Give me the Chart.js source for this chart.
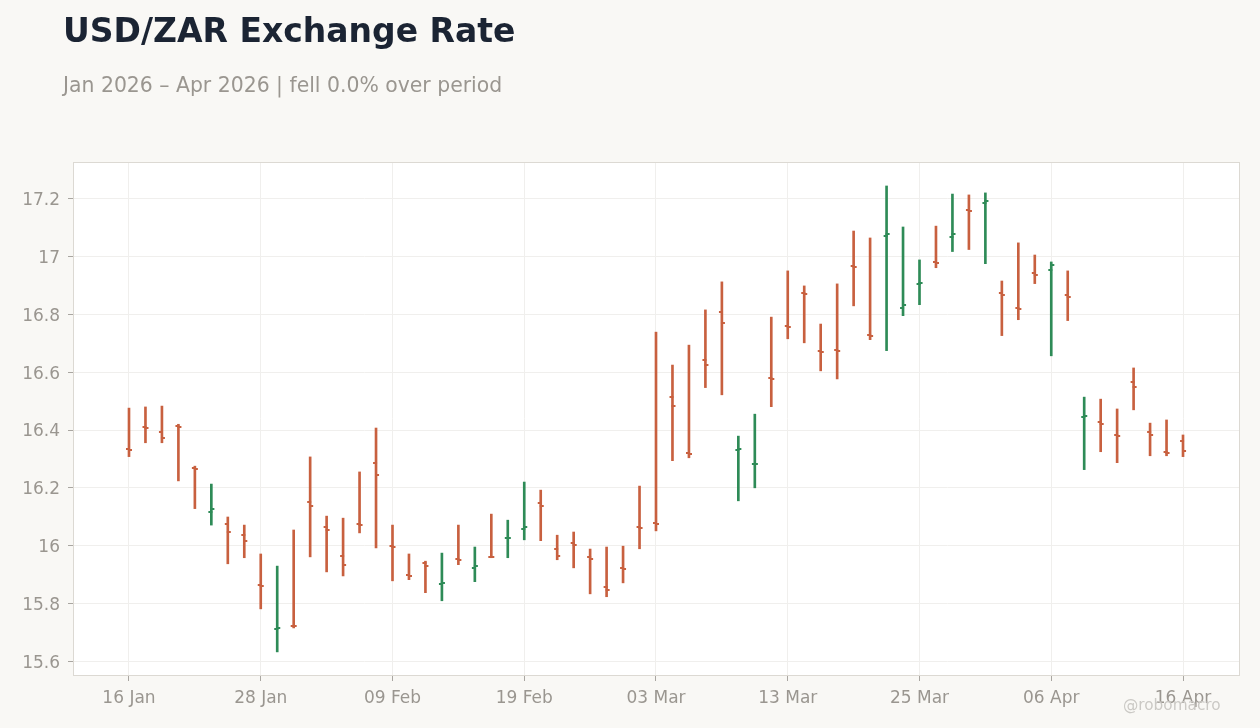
<!DOCTYPE html>
<html>
<head>
<meta charset="utf-8">
<script src="https://cdn.jsdelivr.net/npm/chart.js@4/dist/chart.umd.min.js"></script>
<style>
  html, body { margin: 0; padding: 0; background: #f9f8f5; }
  body { width: 1260px; height: 728px; position: relative; overflow: hidden; font-family: 'DejaVu Sans', sans-serif; }
  #title { position: absolute; left: 63px; top: 11px; font-size: 33px; font-weight: bold; color: #1b2433; white-space: nowrap; }
  #subtitle { position: absolute; left: 63px; top: 73px; font-size: 20.4px; color: #9a9690; white-space: nowrap; }
  #credit { position: absolute; left: 1123px; top: 696px; font-size: 15.3px; color: #cbc9c5; white-space: nowrap; }
  #wrap { position: absolute; left: 0; top: 0; width: 1260px; height: 728px; }
</style>
</head>
<body>
<div id="wrap"><canvas id="myChart" width="1260" height="728"></canvas></div>
<div id="title">USD/ZAR Exchange Rate</div>
<div id="subtitle">Jan 2026 – Apr 2026 | fell 0.0% over period</div>
<div id="credit">@robomacro</div>
<script>
// trading days, 16 Jan - 16 Apr 2026
const days = [
    '16 Jan', '19 Jan', '20 Jan', '21 Jan', '22 Jan', '23 Jan', '26 Jan', '27 Jan', '28 Jan', '29 Jan', '30 Jan',
    '02 Feb', '03 Feb', '04 Feb', '05 Feb', '06 Feb', '09 Feb', '10 Feb', '11 Feb', '12 Feb', '13 Feb',
    '16 Feb', '17 Feb', '18 Feb', '19 Feb', '20 Feb', '23 Feb', '24 Feb', '25 Feb', '26 Feb', '27 Feb',
    '02 Mar', '03 Mar', '04 Mar', '05 Mar', '06 Mar', '09 Mar', '10 Mar', '11 Mar', '12 Mar', '13 Mar',
    '16 Mar', '17 Mar', '18 Mar', '19 Mar', '20 Mar', '23 Mar', '24 Mar', '25 Mar', '26 Mar', '27 Mar',
    '30 Mar', '31 Mar', '01 Apr', '02 Apr', '03 Apr', '06 Apr', '07 Apr', '08 Apr', '09 Apr', '10 Apr',
    '13 Apr', '14 Apr', '15 Apr', '16 Apr'
];

const open = [
    16.335, 16.412, 16.394, 16.414, 16.270, 16.117, 16.076, 16.037, 15.864, 15.711, 15.723,
    16.152, 16.063, 15.965, 16.076, 16.287, 15.999, 15.899, 15.940, 15.868, 15.954,
    15.923, 15.962, 16.025, 16.058, 16.148, 15.989, 16.010, 15.961, 15.857, 15.923,
    16.063, 16.079, 16.515, 16.321, 16.643, 16.810, 16.331, 16.281, 16.581, 16.761,
    16.873, 16.675, 16.676, 16.968, 16.728, 17.073, 16.824, 16.907, 16.983, 17.069,
    17.163, 17.187, 16.876, 16.821, 16.945, 16.955, 16.869, 16.446, 16.429, 16.384,
    16.567, 16.394, 16.325, 16.363
];
const high = [
    16.476, 16.480, 16.483, 16.420, 16.275, 16.213, 16.099, 16.071, 15.971, 15.929, 16.054,
    16.307, 16.102, 16.095, 16.255, 16.407, 16.071, 15.971, 15.946, 15.974, 16.071,
    15.995, 16.109, 16.088, 16.220, 16.192, 16.036, 16.047, 15.988, 15.995, 15.998,
    16.206, 16.739, 16.625, 16.694, 16.816, 16.913, 16.379, 16.455, 16.791, 16.951,
    16.899, 16.767, 16.906, 17.089, 17.065, 17.245, 17.103, 16.989, 17.106, 17.217,
    17.214, 17.221, 16.916, 17.048, 17.006, 16.982, 16.951, 16.514, 16.507, 16.473,
    16.615, 16.424, 16.435, 16.383
];
const low = [
    16.308, 16.356, 16.356, 16.224, 16.128, 16.071, 15.937, 15.958, 15.781, 15.632, 15.715,
    15.961, 15.909, 15.895, 16.044, 15.992, 15.878, 15.882, 15.837, 15.809, 15.934,
    15.875, 15.958, 15.958, 16.020, 16.017, 15.951, 15.923, 15.833, 15.823, 15.871,
    15.989, 16.051, 16.294, 16.304, 16.547, 16.522, 16.155, 16.200, 16.481, 16.716,
    16.702, 16.605, 16.577, 16.830, 16.713, 16.675, 16.796, 16.834, 16.962, 17.018,
    17.025, 16.976, 16.727, 16.782, 16.907, 16.657, 16.779, 16.263, 16.325, 16.287,
    16.470, 16.311, 16.311, 16.308
];
const close = [
    16.332, 16.408, 16.373, 16.410, 16.266, 16.128, 16.048, 16.017, 15.861, 15.713, 15.721,
    16.138, 16.055, 15.934, 16.072, 16.245, 15.996, 15.895, 15.930, 15.871, 15.951,
    15.930, 15.959, 16.028, 16.065, 16.138, 15.965, 16.003, 15.954, 15.847, 15.920,
    16.060, 16.076, 16.484, 16.318, 16.626, 16.772, 16.334, 16.284, 16.578, 16.758,
    16.871, 16.671, 16.673, 16.965, 16.725, 17.080, 16.834, 16.910, 16.979, 17.080,
    17.159, 17.194, 16.869, 16.819, 16.938, 16.972, 16.862, 16.449, 16.422, 16.380,
    16.550, 16.384, 16.321, 16.328
];

const xTickIdx = [0, 8, 16, 24, 32, 40, 48, 56, 64];
const yTicks = [15.6, 15.8, 16.0, 16.2, 16.4, 16.6, 16.8, 17.0, 17.2];

const UP = '#2e8b57';
const DOWN = '#c8603f';
const FONT = 'DejaVu Sans';
const LABEL = '#9a9690';

function isUp(i) { return close[i] >= open[i]; }

// small tick images for open (left) and close (right)
function tickImg(color, side) {
    const c = document.createElement('canvas');
    c.width = 8;
    c.height = 2;
    const g = c.getContext('2d');
    g.fillStyle = color;
    g.fillRect(side === 'left' ? 1 : 3, 0, 4, 2);
    return c;
}
const imgs = {
    openUp: tickImg(UP, 'left'), openDown: tickImg(DOWN, 'left'),
    closeUp: tickImg(UP, 'right'), closeDown: tickImg(DOWN, 'right')
};

const plotFrame = {
    id: 'plotFrame',
    beforeDraw(chart) {
        const { ctx, chartArea: a } = chart;
        ctx.save();
        ctx.fillStyle = '#ffffff';
        ctx.fillRect(a.left, a.top, a.right - a.left, a.bottom - a.top);
        ctx.restore();
    },
    beforeDatasetsDraw(chart) {
        const { ctx, chartArea: a } = chart;
        ctx.save();
        ctx.strokeStyle = '#dcd9d3';
        ctx.lineWidth = 1;
        ctx.strokeRect(a.left + 0.5, a.top + 0.5, a.right - a.left, a.bottom - a.top);
        ctx.restore();
    }
};

const data = {
    datasets: [
        {
            type: 'bar',
            label: 'range',
            data: days.map((d, i) => ({ x: i, y: [low[i], high[i]] })),
            backgroundColor: ctx => isUp(ctx.dataIndex) ? UP : DOWN,
            barThickness: 2,
            borderWidth: 0,
            order: 2
        },
        {
            type: 'scatter',
            label: 'open',
            data: days.map((d, i) => ({ x: i, y: open[i] })),
            pointStyle: ctx => isUp(ctx.dataIndex) ? imgs.openUp : imgs.openDown,
            pointRadius: 3,
            order: 1
        },
        {
            type: 'scatter',
            label: 'close',
            data: days.map((d, i) => ({ x: i, y: close[i] })),
            pointStyle: ctx => isUp(ctx.dataIndex) ? imgs.closeUp : imgs.closeDown,
            pointRadius: 3,
            order: 0
        }
    ]
};

const config = {
    type: 'bar',
    data: data,
    plugins: [plotFrame],
    options: {
        responsive: false,
        animation: false,
        layout: { padding: { top: 162, right: 21, left: 0, bottom: 0 } },
        plugins: {
            legend: { display: false },
            tooltip: { enabled: false }
        },
        scales: {
            x: {
                type: 'linear',
                min: -3.4,
                max: 67.4,
                offset: false,
                afterBuildTicks: s => { s.ticks = xTickIdx.map(v => ({ value: v })); },
                afterFit: s => { s.height = 53; },
                ticks: {
                    callback: v => days[v],
                    color: LABEL,
                    font: { family: FONT, size: 17 },
                    padding: 7,
                    maxRotation: 0,
                    autoSkip: false
                },
                grid: { offset: false, color: '#f0efed', tickColor: '#a9a6a1', tickLength: 6 },
                border: { display: false }
            },
            y: {
                min: 15.552,
                max: 17.328,
                afterBuildTicks: s => { s.ticks = yTicks.map(v => ({ value: v })); },
                afterFit: s => { s.width = 73; },
                ticks: {
                    callback: v => String(+v.toFixed(1)),
                    color: LABEL,
                    font: { family: FONT, size: 17 },
                    padding: 8,
                    labelOffset: 2
                },
                grid: { color: '#f0efed', tickColor: '#a9a6a1', tickLength: 5 },
                border: { display: false }
            }
        }
    }
};

new Chart(document.getElementById('myChart'), config);
</script>
</body>
</html>
